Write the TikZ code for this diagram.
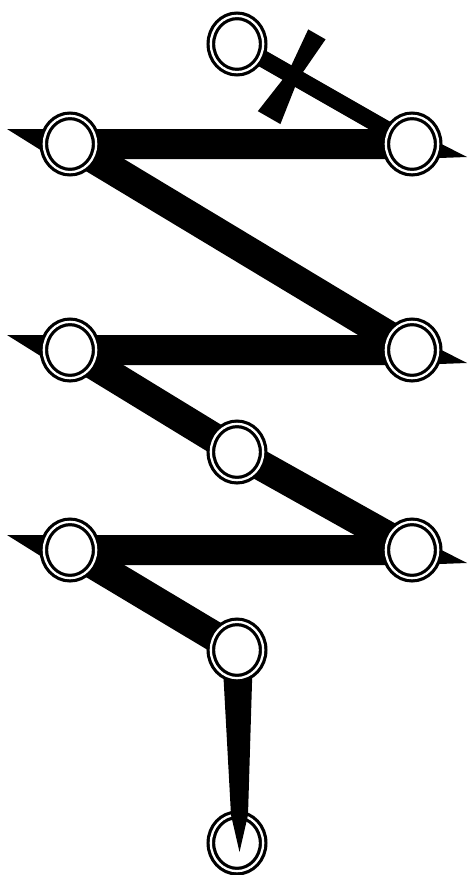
\documentclass[tikz,border=0pt]{standalone}
\usetikzlibrary{shapes.geometric,calc}
\pgfdeclarelayer{bg}
\pgfsetlayers{bg,main}
\tikzset{
 joint/.style={ellipse,draw,fill=white,line width=3.2pt,double=white,double distance=2.3pt,
  minimum width=52.3pt,minimum height=56.3pt,inner sep=0pt},
 bar/.style={line width=30pt},
 link/.style={line width=17pt}}

\begin{document}
\begin{tikzpicture}[x=1pt,y=-1pt,every node/.style={inner sep=0pt,outer sep=0pt}]
\path[use as bounding box] (0,0) rectangle (467,875);
% ---------- joints
\node[joint] (top) at (237,44) {};
\foreach \n/\y in {1/144,2/350,3/550}{
 \node[joint] (l\n) at (70,\y) {};
 \node[joint] (r\n) at (412,\y) {};}
\node[joint] (mid) at (237,452) {};
\node[joint] (low) at (237,650) {};
% ---------- bars, behind the joints
\begin{pgfonlayer}{bg}
\node[joint] (bot) at (237,843) {};
\foreach \n in {1,2,3}
 \fill ($(l\n.center)+(-63,-15)$) -- ($(r\n.center)+(0,-15)$) -- ($(r\n.center)+(55,13)$)
  -- ($(r\n.center)+(0,15)$) -- ($(l\n.center)+(-15,15)$) -- cycle;
\draw[bar] (l1.center) -- (r2.center);
\draw[bar] (l2.center) -- (mid.center) -- (r3.center);
\draw[bar] (l3.center) -- (low.center);
\draw[link] (top.center) -- (r1.center);
% dagger into the last joint
\fill ($(low.center)+(-15,0)$) -- ($(low.center)+(16,0)$) -- ($(low.center)+(11,165)$)
 -- ($(bot.center)+(2.5,9)$) -- ($(low.center)+(-6,165)$) -- cycle;
\end{pgfonlayer}
% ---------- cut mark on the top link
\coordinate (cut) at ($(top.center)!0.32!(r1.center)$);
\begin{scope}[shift={(cut)},rotate=-29.85]
\fill (-10,-48) -- (10,-48) -- (6,0) -- (13,48) -- (-13,48) -- (-6,0) -- cycle;
\end{scope}
\end{tikzpicture}
\end{document}
